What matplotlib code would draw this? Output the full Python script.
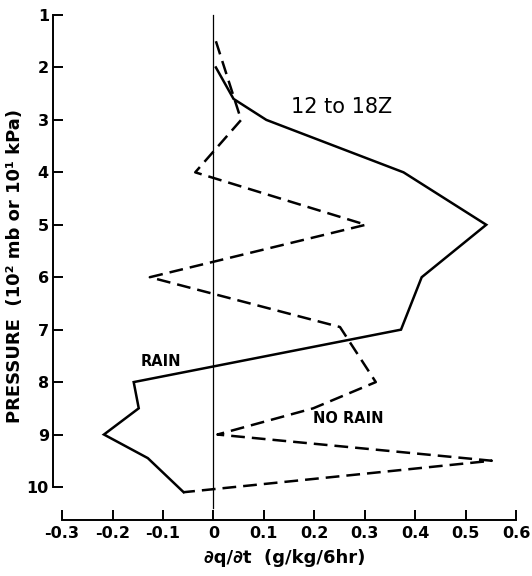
import matplotlib.pyplot as plt

# pressure levels (10^2 mb) and dq/dt (g/kg/6hr)
rain_p = [2.0, 2.6, 3.0, 4.0, 5.0, 6.0, 7.0, 8.0, 8.5, 9.0, 9.45, 10.1]
rain_q = [0.005, 0.04, 0.105, 0.377, 0.541, 0.413, 0.372, -0.158, -0.148, -0.217, -0.13, -0.059]

norain_p = [1.5, 3.0, 4.0, 5.0, 6.0, 6.95, 8.0, 8.5, 9.0, 9.5, 10.1]
norain_q = [0.005, 0.055, -0.036, 0.302, -0.126, 0.251, 0.322, 0.198, 0.008, 0.552, -0.059]

xticks = [-0.3, -0.2, -0.1, 0, 0.1, 0.2, 0.3, 0.4, 0.5, 0.6]
xticklabels = ['-0.3', '-0.2', '-0.1', '0', '0.1', '0.2', '0.3', '0.4', '0.5', '0.6']
yticks = [1, 2, 3, 4, 5, 6, 7, 8, 9, 10]

fig = plt.figure(figsize=(5.32, 5.76), dpi=100)
ax = fig.add_axes([53 / 532, 56 / 576, 463 / 532, 507.6 / 576])

ax.plot(rain_q, rain_p, color='black', lw=1.8, solid_joinstyle='miter')
ax.plot(norain_q, norain_p, color='black', lw=1.8, dashes=(5.5, 2.8))
ax.plot([0, 0], [1.0, 10.4], color='black', lw=0.9)

ax.set_xlim(-0.318, 0.6)
ax.set_ylim(10.63, 0.95)

for s in ['top', 'right']:
    ax.spines[s].set_visible(False)
ax.spines['left'].set_bounds(1, 10)
ax.spines['bottom'].set_bounds(-0.3, 0.6)
ax.spines['left'].set_linewidth(1.4)
ax.spines['bottom'].set_linewidth(1.4)

ax.set_xticks(xticks)
ax.set_xticklabels(xticklabels)
ax.set_yticks(yticks)
ax.tick_params(direction='in', length=7, width=1.4, labelsize=11.5, pad=4)
ax.tick_params(axis='y', pad=3)
for lbl in ax.get_xticklabels() + ax.get_yticklabels():
    lbl.set_fontweight('bold')

ax.set_xlabel('∂q/∂t  (g/kg/6hr)', fontsize=13, fontweight='bold', labelpad=6)
ax.set_ylabel('PRESSURE  (10² mb or 10¹ kPa)', fontsize=13, fontweight='bold', labelpad=2)

ax.text(0.255, 2.75, '12 to 18Z', fontsize=15, ha='center', va='center')
ax.text(-0.105, 7.6, 'RAIN', fontsize=10.5, fontweight='bold', ha='center', va='center')
ax.text(0.268, 8.7, 'NO RAIN', fontsize=10.5, fontweight='bold', ha='center', va='center')

fig.savefig('out.png', dpi=100)
